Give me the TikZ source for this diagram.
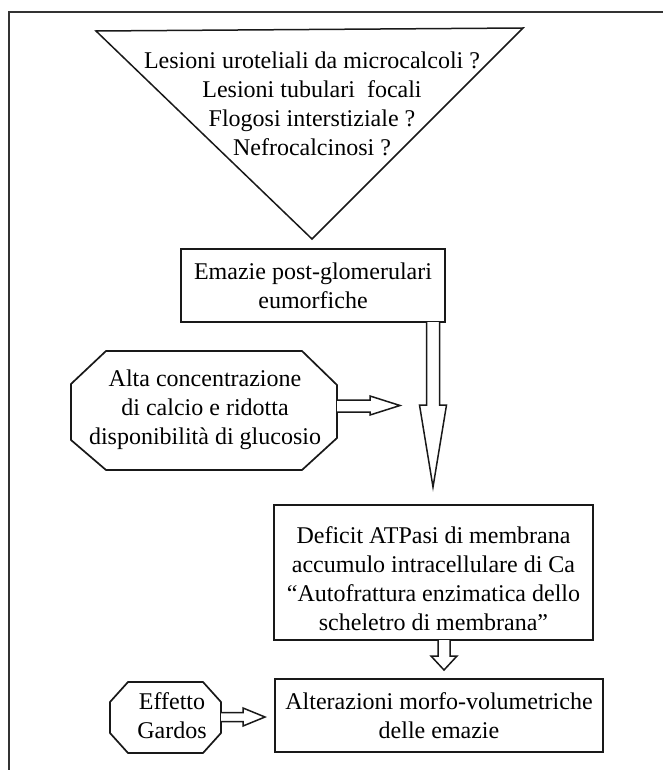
\documentclass[tikz,border=0pt]{standalone}
\usepackage{fontspec}
\setmainfont{Liberation Serif}
\usetikzlibrary{calc}
\begin{document}
\begin{tikzpicture}[x=1pt,y=-1pt,
  outline/.style={draw=black!90,line width=1.7pt,line join=miter},
  txt/.style={align=center,font=\fontsize{24}{29}\selectfont,inner sep=0pt},
  blockarrow/.style={draw=black!90,line width=1.5pt,fill=white,line join=miter}]
\useasboundingbox (0,0) rectangle (663,770);

% outer frame (top and left edges)
\draw[line width=1.9pt,black!80] (9,770) -- (9,12) -- (663,12);

% inverted triangle with the renal lesions
\draw[outline,line width=1.5pt] (96,31) -- (523,28) -- (312,239) -- cycle;
\node[txt] (causes) at (312,104) {Lesioni uroteliali da microcalcoli ?\\Lesioni tubulari\ \ focali\\Flogosi interstiziale ?\\Nefrocalcinosi ?};

% post-glomerular red cells
\node[outline,txt,minimum width=264pt,minimum height=73pt] (rbc) at (313,285.5) {Emazie post-glomerulari\\eumorfiche};

% octagon: calcium / glucose
\draw[outline] (106,351) -- (302,351) -- (337,385) -- (337,438) -- (302,470) -- (106,470) -- (71,440) -- (71,384) -- cycle;
\node[txt] (calcium) at (205,410) {Alta concentrazione\\di calcio e ridotta\\disponibilità di glucosio};

% membrane ATPase deficit
\node[outline,minimum width=319pt,minimum height=135pt] (deficit) at (433.5,572.5) {};
\node[txt] (deficittext) at ($(deficit.center)+(0,6)$) {Deficit ATPasi di membrana\\accumulo intracellulare di Ca\\“Autofrattura enzimatica dello\\scheletro di membrana”};

% morpho-volumetric alterations
\node[outline,txt,minimum width=328pt,minimum height=73pt] (alter) at (439,715.5) {Alterazioni morfo-volumetriche\\delle emazie};

% octagon: Gardos effect
\draw[outline] (128,682) -- (203,682) -- (221,702) -- (221,733) -- (203,753) -- (128,753) -- (110,733) -- (110,702) -- cycle;
\node[txt] (gardos) at (172,716) {Effetto\\Gardos};

% block arrows
\coordinate (tipA) at (433,487);
\draw[blockarrow] (426.5,322) -- (426.5,405) -- (419.5,405) -- (tipA) -- (446.5,405) -- (439.5,405) -- (439.5,322);
\coordinate (tipB) at (400,405.5);
\draw[blockarrow] (337,400) -- (370,400) -- (370,396) -- (tipB) -- (370,415) -- (370,412) -- (337,412);
\coordinate (tipC) at (444,670);
\draw[blockarrow] (438,640) -- (438,656) -- (431,656) -- (tipC) -- (457,656) -- (450,656) -- (450,640);
\coordinate (tipD) at (265,717);
\draw[blockarrow] (221,712.5) -- (243,712.5) -- (243,708) -- (tipD) -- (243,726) -- (243,721.5) -- (221,721.5);
\end{tikzpicture}
\end{document}
